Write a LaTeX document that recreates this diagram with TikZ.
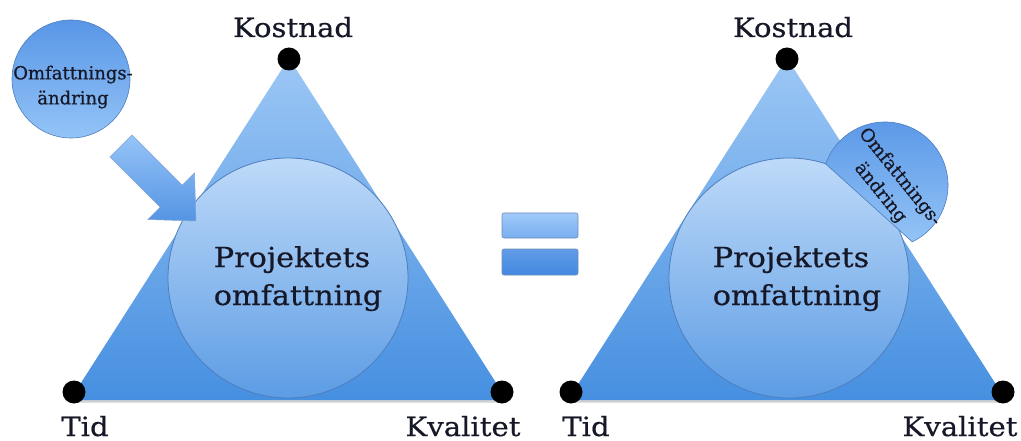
\documentclass[tikz,border=0pt]{standalone}
\usepackage{fontspec}
\newfontfamily\labelfont[FakeStretch=1.1,FakeBold=0.6]{DejaVu Serif}
\newfontfamily\notefont[FakeBold=0.6]{DejaVu Serif}
\definecolor{triTop}{RGB}{156,199,245}
\definecolor{triBot}{RGB}{70,143,224}
\definecolor{discTop}{RGB}{190,218,249}
\definecolor{discBot}{RGB}{92,156,228}
\definecolor{discLine}{RGB}{78,126,190}
\definecolor{chgTop}{RGB}{88,150,230}
\definecolor{chgBot}{RGB}{148,196,247}
\definecolor{arrTop}{RGB}{150,196,248}
\definecolor{arrBot}{RGB}{84,148,228}
\definecolor{barA}{RGB}{160,202,250}
\definecolor{barB}{RGB}{120,174,240}
\definecolor{barC}{RGB}{98,156,232}
\definecolor{barD}{RGB}{66,136,224}
\definecolor{barLine}{RGB}{110,140,180}
\definecolor{txt}{RGB}{22,24,40}
\tikzset{
  triface/.style={top color=triTop, bottom color=triBot, draw=none},
  trishadow/.style={fill=black, opacity=0.18},
  scopedisc/.style={circle, inner sep=0pt, minimum size=240pt,
    top color=discTop, bottom color=discBot, draw=discLine, line width=0.8pt},
  changedisc/.style={circle, inner sep=0pt, minimum size=118pt,
    top color=chgTop, bottom color=chgBot, draw=discLine, line width=0.6pt},
  changeseg/.style={top color=chgTop, bottom color=chgBot, draw=discLine, line width=0.6pt},
  blockarrow/.style={top color=arrTop, bottom color=arrBot, draw=discLine!70, line width=0.5pt},
  corner/.style={circle, fill=black, inner sep=0pt, minimum size=23pt},
  cornerlabel/.style={anchor=base, inner sep=0pt, text=txt, font=\labelfont\fontsize{26.5}{30}\selectfont},
  scopelabel/.style={anchor=base, inner sep=0pt, text=txt, font=\labelfont\fontsize{27.5}{32}\selectfont},
  notelabel/.style={align=center, inner sep=0pt, text=txt, font=\notefont\fontsize{18}{25}\selectfont},
  eqbar/.style={rectangle, rounded corners=2pt, inner sep=0pt, minimum width=76pt,
    draw=barLine, line width=0.6pt},
}
\begin{document}
\begin{tikzpicture}[x=1pt, y=-1pt]
\useasboundingbox (0,0) rectangle (1021,441);

% ---------- left triangle: scope change arriving from outside ----------
\coordinate (L-top) at (289,58);
\coordinate (L-left) at (70,400);
\coordinate (L-right) at (507,400);
\path[trishadow] ([yshift=-2.5pt]L-left) -- ([yshift=-2.5pt]L-right) -- ([xshift=-2pt]L-right) -- ([xshift=2pt]L-left) -- cycle;
\path[triface] (L-top) -- (L-left) -- (L-right) -- cycle;

\node[scopedisc] (L-scope) at (288,278) {};
\node[scopelabel] (L-scope-1) at (292,267) {Projektets};
\node[scopelabel] (L-scope-2) at (298,305) {omfattning};

% block arrow pushing the change into the scope
\path[blockarrow] (132,135) -- (182.2,185.2) -- (194.5,172.9) -- (196,221)
  -- (147.9,219.5) -- (160.2,207.2) -- (110,157) -- cycle;

\node[changedisc] (L-change) at (71,79) {};
\node[notelabel] (L-change-text) at (73,87) {Omfattnings-\\ändring};

\node[corner] (L-kostnad) at (289,59) {};
\node[corner] (L-tid) at (74,392) {};
\node[corner] (L-kvalitet) at (502,392) {};
\node[cornerlabel] (L-kostnad-lbl) at (293,37) {Kostnad};
\node[cornerlabel] (L-tid-lbl) at (85,436) {Tid};
\node[cornerlabel] (L-kvalitet-lbl) at (463,436) {Kvalitet};

% ---------- equals sign ----------
\node[eqbar, minimum height=25pt, top color=barA, bottom color=barB] (eq-top) at (540,225.5) {};
\node[eqbar, minimum height=26pt, top color=barC, bottom color=barD] (eq-bottom) at (540,262) {};

% ---------- right triangle: change absorbed into the scope ----------
\coordinate (R-top) at (787,58);
\coordinate (R-left) at (568,400);
\coordinate (R-right) at (1006,400);
\path[trishadow] ([yshift=-2.5pt]R-left) -- ([yshift=-2.5pt]R-right) -- ([xshift=-2pt]R-right) -- ([xshift=2pt]R-left) -- cycle;
\path[triface] (R-top) -- (R-left) -- (R-right) -- cycle;

\node[scopedisc] (R-scope) at (789,278) {};
\node[scopelabel] (R-scope-1) at (791,267) {Projektets};
\node[scopelabel] (R-scope-2) at (797,305) {omfattning};

% the change as a cut disc resting on the scope
\coordinate (R-change-c) at (885,185);
\path[changeseg] (R-change-c) ++(199.6:63) arc[start angle=199.6, end angle=424.4, radius=63] -- cycle;
\node[notelabel, rotate=-51] (R-change-text) at (890,185) {Omfattnings-\\ändring};

\node[corner] (R-kostnad) at (787,59) {};
\node[corner] (R-tid) at (571,392) {};
\node[corner] (R-kvalitet) at (1003,392) {};
\node[cornerlabel] (R-kostnad-lbl) at (793,37) {Kostnad};
\node[cornerlabel] (R-tid-lbl) at (586,436) {Tid};
\node[cornerlabel] (R-kvalitet-lbl) at (960,436) {Kvalitet};
\end{tikzpicture}
\end{document}
